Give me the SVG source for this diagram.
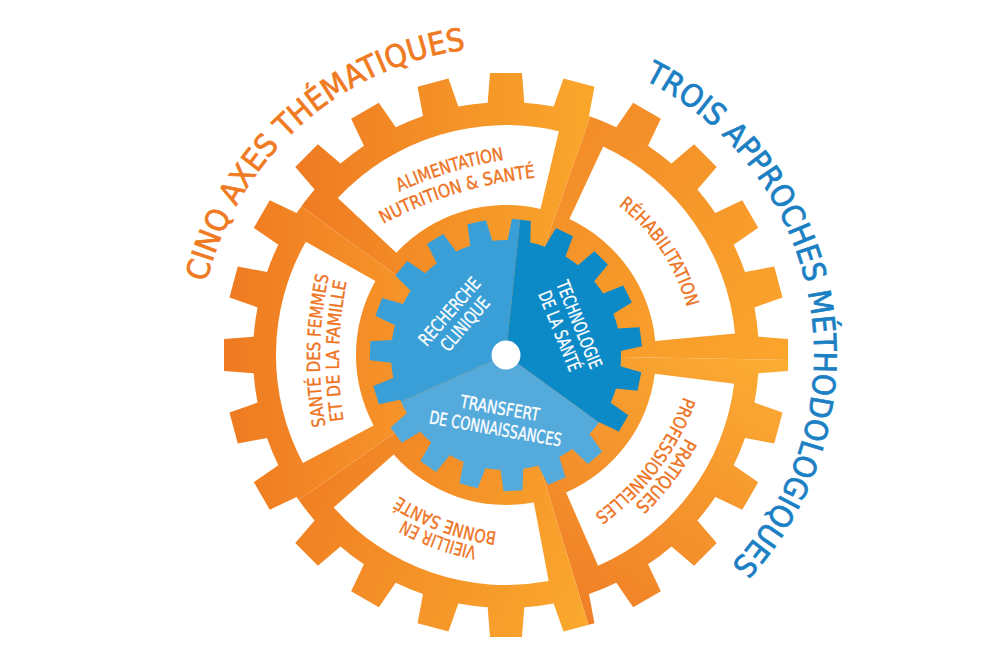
<svg xmlns="http://www.w3.org/2000/svg" xmlns:xlink="http://www.w3.org/1999/xlink" width="995" height="660" viewBox="0 0 995 660">
<style>
.t{font-family:"DejaVu Sans Condensed","DejaVu Sans","Liberation Sans",sans-serif;}
.lbl{font-size:18px;fill:#ee7322;stroke:#ee7322;stroke-width:0.35px;}
.blu{font-size:18px;fill:#ffffff;stroke:#ffffff;stroke-width:0.3px;}
.ttl{font-size:31px;stroke-width:0.7px;}
.seg{fill:#ffffff;}
</style>
<defs>
<linearGradient id="gA" gradientUnits="userSpaceOnUse" x1="300" y1="0" x2="600" y2="0"><stop offset="0" stop-color="#ef7b22"/><stop offset="1" stop-color="#faa82c"/></linearGradient>
<linearGradient id="gR" gradientUnits="userSpaceOnUse" x1="590" y1="80" x2="790" y2="330"><stop offset="0" stop-color="#f28a28"/><stop offset="1" stop-color="#faa42c"/></linearGradient>
<linearGradient id="gP" gradientUnits="userSpaceOnUse" x1="790" y1="360" x2="600" y2="640"><stop offset="0" stop-color="#fcad33"/><stop offset="1" stop-color="#ef7e27"/></linearGradient>
<linearGradient id="gV" gradientUnits="userSpaceOnUse" x1="580" y1="630" x2="260" y2="470"><stop offset="0" stop-color="#faa82e"/><stop offset="1" stop-color="#ef7a22"/></linearGradient>
<linearGradient id="gS" gradientUnits="userSpaceOnUse" x1="225" y1="0" x2="420" y2="0"><stop offset="0" stop-color="#ef7a21"/><stop offset="1" stop-color="#f7962a"/></linearGradient>
<polygon id="tooth" points="-18.5,-250 -16,-282 16,-282 18.5,-250"/>
<polygon id="btooth" points="-11.5,-113 -9.5,-136 9.5,-136 11.5,-113"/>
<path id="c308" d="M0,308 A308,308 0 0 1 0,-308 A308,308 0 0 1 0,308"/>
<path id="c187" d="M0,187 A187,187 0 0 1 0,-187 A187,187 0 0 1 0,187"/>
<path id="c250" d="M0,250 A250,250 0 0 1 0,-250 A250,250 0 0 1 0,250"/>
<path id="c400" d="M0,400 A400,400 0 0 1 0,-400 A400,400 0 0 1 0,400"/>
<clipPath id="gearClip">
<circle cx="506" cy="355" r="253"/>
<use href="#tooth" transform="translate(506 355) rotate(0)"/>
<use href="#tooth" transform="translate(506 355) rotate(15)"/>
<use href="#tooth" transform="translate(506 355) rotate(30)"/>
<use href="#tooth" transform="translate(506 355) rotate(45)"/>
<use href="#tooth" transform="translate(506 355) rotate(60)"/>
<use href="#tooth" transform="translate(506 355) rotate(75)"/>
<use href="#tooth" transform="translate(506 355) rotate(90)"/>
<use href="#tooth" transform="translate(506 355) rotate(105)"/>
<use href="#tooth" transform="translate(506 355) rotate(120)"/>
<use href="#tooth" transform="translate(506 355) rotate(135)"/>
<use href="#tooth" transform="translate(506 355) rotate(150)"/>
<use href="#tooth" transform="translate(506 355) rotate(165)"/>
<use href="#tooth" transform="translate(506 355) rotate(180)"/>
<use href="#tooth" transform="translate(506 355) rotate(195)"/>
<use href="#tooth" transform="translate(506 355) rotate(210)"/>
<use href="#tooth" transform="translate(506 355) rotate(225)"/>
<use href="#tooth" transform="translate(506 355) rotate(240)"/>
<use href="#tooth" transform="translate(506 355) rotate(255)"/>
<use href="#tooth" transform="translate(506 355) rotate(270)"/>
<use href="#tooth" transform="translate(506 355) rotate(285)"/>
<use href="#tooth" transform="translate(506 355) rotate(300)"/>
<use href="#tooth" transform="translate(506 355) rotate(315)"/>
<use href="#tooth" transform="translate(506 355) rotate(330)"/>
<use href="#tooth" transform="translate(506 355) rotate(345)"/>
</clipPath>
<clipPath id="blueClip">
<circle cx="506" cy="355" r="115"/>
<use href="#btooth" transform="translate(506 355) rotate(6.5)"/>
<use href="#btooth" transform="translate(506 355) rotate(25.45)"/>
<use href="#btooth" transform="translate(506 355) rotate(44.39)"/>
<use href="#btooth" transform="translate(506 355) rotate(63.34)"/>
<use href="#btooth" transform="translate(506 355) rotate(82.29)"/>
<use href="#btooth" transform="translate(506 355) rotate(101.24)"/>
<use href="#btooth" transform="translate(506 355) rotate(120.18)"/>
<use href="#btooth" transform="translate(506 355) rotate(139.13)"/>
<use href="#btooth" transform="translate(506 355) rotate(158.08)"/>
<use href="#btooth" transform="translate(506 355) rotate(177.03)"/>
<use href="#btooth" transform="translate(506 355) rotate(195.97)"/>
<use href="#btooth" transform="translate(506 355) rotate(214.92)"/>
<use href="#btooth" transform="translate(506 355) rotate(233.87)"/>
<use href="#btooth" transform="translate(506 355) rotate(252.82)"/>
<use href="#btooth" transform="translate(506 355) rotate(271.76)"/>
<use href="#btooth" transform="translate(506 355) rotate(290.71)"/>
<use href="#btooth" transform="translate(506 355) rotate(309.66)"/>
<use href="#btooth" transform="translate(506 355) rotate(328.61)"/>
<use href="#btooth" transform="translate(506 355) rotate(347.55)"/>
</clipPath>
</defs>
<rect x="0" y="0" width="995" height="660" fill="#ffffff"/>

<g id="big-gear" clip-path="url(#gearClip)">
<path d="M506,355 L263.3,178.7 A300,300 0 0 1 606.1,72.2 Z" fill="url(#gA)"/>
<path d="M506,355 L606.1,72.2 A300,300 0 0 1 806,360.2 Z" fill="url(#gR)"/>
<path d="M506,355 L806,360.2 A300,300 0 0 1 593.7,641.9 Z" fill="url(#gP)"/>
<path d="M506,355 L593.7,641.9 A300,300 0 0 1 260.2,527.1 Z" fill="url(#gV)"/>
<path d="M506,355 L260.2,527.1 A300,300 0 0 1 263.3,178.7 Z" fill="url(#gS)"/>
</g>

<g id="segments">
<path id="seg-alimentation" class="seg" d="M337.8,198.1 A230,230 0 0 1 558.9,131.2 L540.5,209 A150,150 0 0 0 396.3,252.7 Z"/>
<path id="seg-rehabilitation" class="seg" d="M603.2,146.6 A230,230 0 0 1 735,333.4 L655.3,340.9 A150,150 0 0 0 569.4,219.1 Z"/>
<path id="seg-pratiques" class="seg" d="M734.2,383.8 A230,230 0 0 1 598.1,565.8 L566.1,492.5 A150,150 0 0 0 654.8,373.8 Z"/>
<path id="seg-vieillir" class="seg" d="M548.7,581 A230,230 0 0 1 333.7,507.4 L393.7,454.4 A150,150 0 0 0 533.8,502.4 Z"/>
<path id="seg-sante" class="seg" d="M302.9,463 A230,230 0 0 1 305.8,241.7 L375.4,281.1 A150,150 0 0 0 373.6,425.4 Z"/>
</g>

<g id="blue-gear" clip-path="url(#blueClip)">
<path d="M506,355 L359.8,420.1 A160,160 0 0 1 522.7,195.9 Z" fill="#3a9fd6"/>
<path d="M506,355 L522.7,195.9 A160,160 0 0 1 635.4,449 Z" fill="#0c89c7"/>
<path d="M506,355 L635.4,449 A160,160 0 0 1 359.8,420.1 Z" fill="#55aadc"/>
</g>
<circle id="hub" cx="506" cy="355" r="14.5" fill="#ffffff"/>

<g id="node-recherche" class="t blu">
<text transform="translate(454.2 315.6) rotate(-49)" x="-42" y="0" textLength="84" lengthAdjust="spacingAndGlyphs">RECHERCHE</text>
<text transform="translate(469.7 328.1) rotate(-49)" x="-32.5" y="0" textLength="65" lengthAdjust="spacingAndGlyphs">CLINIQUE</text>
</g>
<g id="node-technologie" class="t blu">
<text transform="translate(573.3 326.8) rotate(68)" x="-46.5" y="0" textLength="93" lengthAdjust="spacingAndGlyphs">TECHNOLOGIE</text>
<text transform="translate(553.8 333.3) rotate(68)" x="-42.5" y="0" textLength="85" lengthAdjust="spacingAndGlyphs">DE LA SANTÉ</text>
</g>
<g id="node-transfert" class="t blu">
<text transform="translate(498.9 414.4) rotate(10)" x="-40" y="0" textLength="80" lengthAdjust="spacingAndGlyphs">TRANSFERT</text>
<text transform="translate(494.4 434.9) rotate(10)" x="-67" y="0" textLength="134" lengthAdjust="spacingAndGlyphs">DE CONNAISSANCES</text>
</g>

<g id="node-alimentation" class="t lbl">
<text transform="translate(506 355) rotate(-17) translate(0 209)"><textPath href="#c400" startOffset="1201.6" textLength="110" lengthAdjust="spacingAndGlyphs">ALIMENTATION</textPath></text>
<text transform="translate(506 355) rotate(-17) translate(0 231)"><textPath href="#c400" startOffset="1176.6" textLength="160" lengthAdjust="spacingAndGlyphs">NUTRITION &amp; SANTÉ</textPath></text>
</g>
<g id="node-sante-femmes" class="t lbl">
<text transform="translate(506 355) rotate(-88.8) translate(0 214)"><textPath href="#c400" startOffset="1180.6" textLength="152" lengthAdjust="spacingAndGlyphs">SANTÉ DES FEMMES</textPath></text>
<text transform="translate(506 355) rotate(-88.8) translate(0 233)"><textPath href="#c400" startOffset="1186.6" textLength="140" lengthAdjust="spacingAndGlyphs">ET DE LA FAMILLE</textPath></text>
</g>
<g id="node-rehabilitation" class="t lbl">
<text transform="translate(506 355) rotate(56)"><textPath href="#c187" startOffset="525" textLength="125" lengthAdjust="spacingAndGlyphs">RÉHABILITATION</textPath></text>
</g>
<g id="node-pratiques" class="t lbl">
<text transform="translate(506 355) rotate(127) translate(0 53)"><textPath href="#c250" startOffset="742.9" textLength="85" lengthAdjust="spacingAndGlyphs">PRATIQUES</textPath></text>
<text transform="translate(506 355) rotate(127) translate(0 72)"><textPath href="#c250" startOffset="710.4" textLength="150" lengthAdjust="spacingAndGlyphs">PROFESSIONNELLES</textPath></text>
</g>
<g id="node-vieillir" class="t lbl">
<text transform="translate(506 355) rotate(200) translate(0 57)"><textPath href="#c250" startOffset="746.4" textLength="78" lengthAdjust="spacingAndGlyphs">VIEILLIR EN</textPath></text>
<text transform="translate(506 355) rotate(200) translate(0 75)"><textPath href="#c250" startOffset="732.9" textLength="105" lengthAdjust="spacingAndGlyphs">BONNE SANTÉ</textPath></text>
</g>

<g id="title-axes" class="t ttl" fill="#f07a22" stroke="#f07a22">
<text transform="translate(506 355) rotate(-42)"><textPath href="#c308" startOffset="782.6" textLength="370" lengthAdjust="spacingAndGlyphs">CINQ AXES THÉMATIQUES</textPath></text>
</g>
<g id="title-approches" class="t ttl" fill="#1b7fc3" stroke="#1b7fc3">
<text transform="translate(506 355) rotate(79.75)"><textPath href="#c308" startOffset="681.6" textLength="572" lengthAdjust="spacingAndGlyphs">TROIS APPROCHES MÉTHODOLOGIQUES</textPath></text>
</g>
</svg>
